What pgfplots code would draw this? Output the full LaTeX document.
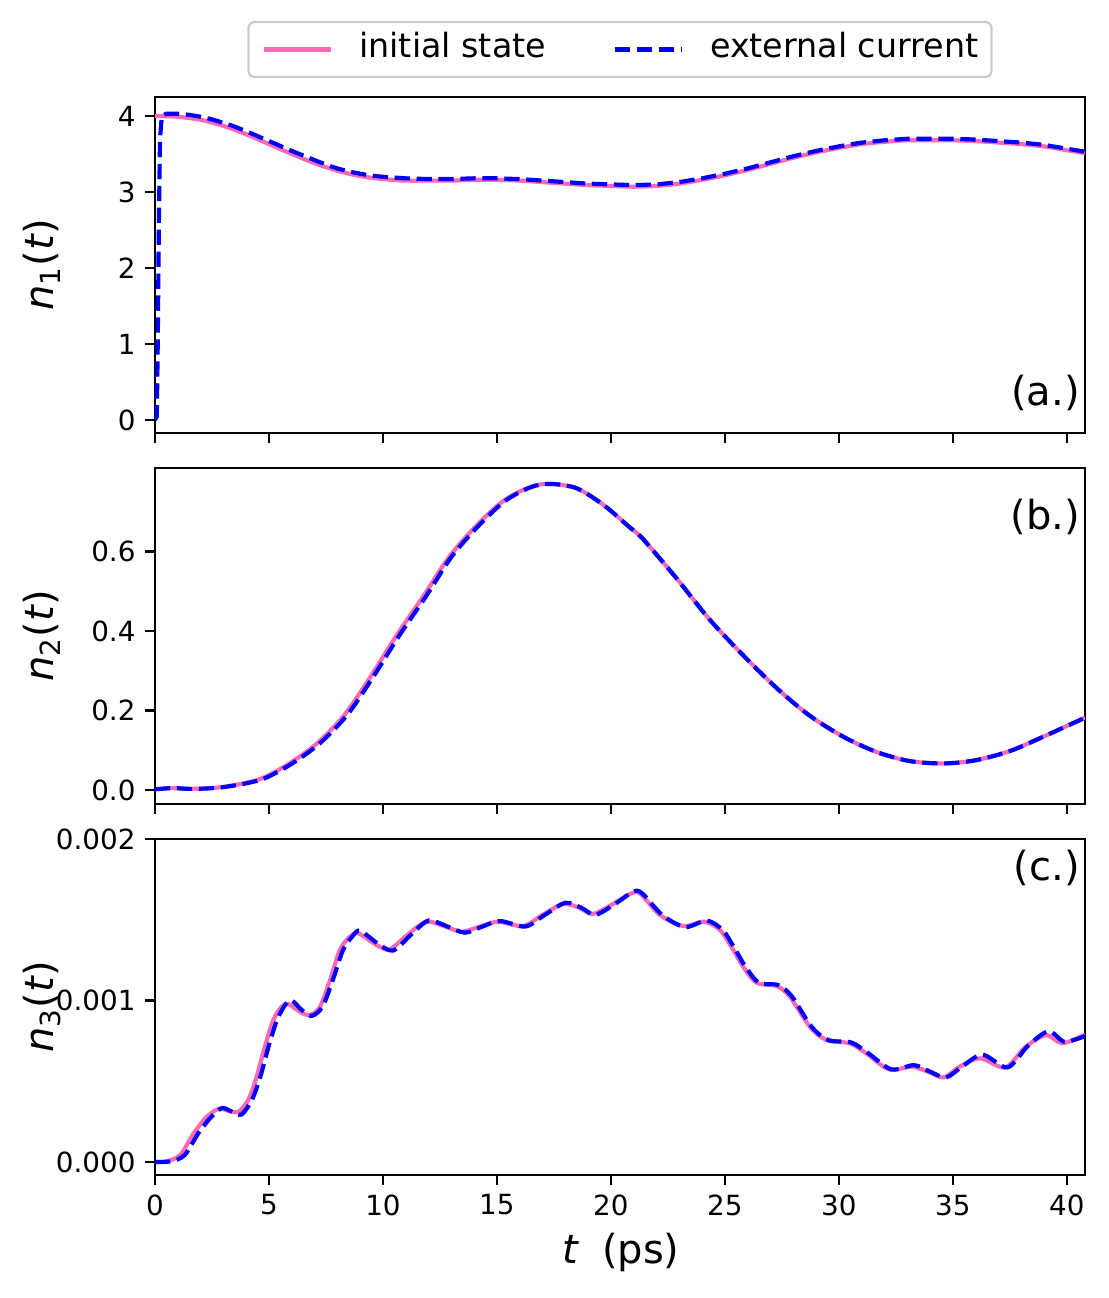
\documentclass[border=0pt]{standalone}
\usepackage{fontspec}
\setmainfont{DejaVu Sans}
\usepackage{pgfplots}
\pgfplotsset{compat=1.18}
\definecolor{hpink}{HTML}{FF69B4}
\definecolor{pblue}{HTML}{0000FF}
\tikzset{lab/.style={font=\fontsize{14.4}{17}\selectfont, anchor=east, inner sep=0pt}}
\pgfplotsset{
  panel/.style={
    scale only axis, width=334.8pt, height=120.96pt,
    anchor=south west,
    xmin=0, xmax=40.8,
    xtick={0,5,...,40},
    tick align=outside, tick pos=left,
    major tick length=3.5pt,
    every tick/.style={black, line width=0.8pt},
    axis line style={line width=0.8pt},
    tick label style={font=\fontsize{10}{12}\selectfont},
    /pgf/number format/assume math mode=true,
    scaled y ticks=false,
    ylabel style={at={(axis description cs:-0.1215,0.5)}, anchor=center, font=\fontsize{14.4}{17}\selectfont},
    clip=true,
  },
  pinkline/.style={color=hpink, line width=1.5pt, smooth},
  blueline/.style={color=pblue, line width=1.5pt, dash pattern=on 5.5pt off 2.4pt},
}
\begin{document}
\begin{tikzpicture}
\path[use as bounding box] (0,0) rectangle (398.88pt,467.28pt);
% ---------------- panel a
\begin{axis}[panel, at={(55.8pt,311.4pt)},
  ymin=-0.17, ymax=4.25, ytick={0,1,2,3,4}, xticklabels={},
  ylabel={{\itshape n}\textsubscript{1}({\itshape t})},
  legend columns=2,
  legend style={at={(0.5,1)}, anchor=south, yshift=6.8pt,
    font=\fontsize{12}{14}\selectfont, draw=black!20, line width=0.8pt, rounded corners=2pt,
    inner xsep=4.8pt, inner ysep=4.4pt,
    nodes={inner sep=0pt, text depth=0.25em, text height=0.85em},
    /tikz/every odd column/.append style={column sep=9.6pt},
    /tikz/every even column/.append style={column sep=24pt}},
  legend image code/.code={\draw[#1] (0pt,0pt) -- (24pt,0pt);},
]
\addplot[pinkline] coordinates {
(0,4.00) (1,3.99) (2,3.95) (3,3.87) (4,3.76) (5,3.63) (6,3.50) (7,3.38) (8,3.28) (9,3.21) (10,3.17) (11,3.15) (12,3.15) (13,3.15) (14,3.16) (15,3.16) (16,3.15) (17,3.13) (18,3.11) (19,3.09) (20,3.08) (21,3.07) (22,3.08) (23,3.11) (24,3.16) (25,3.22) (26,3.29) (27,3.37) (28,3.45) (29,3.52) (30,3.58) (31,3.63) (32,3.66) (33,3.68) (34,3.68) (35,3.68) (36,3.67) (37,3.65) (38,3.63) (39,3.60) (40,3.55) (40.8,3.51)
};
\addlegendentry{initial state}
\addplot[blueline] coordinates {
(0,0) (0.08,0.05) (0.12,1.0) (0.17,2.6) (0.22,3.7) (0.3,4.0) (0.5,4.03) (1,4.03) (1.5,4.015) (2,3.99) (2.5,3.955) (3,3.91) (3.5,3.86) (4,3.80) (4.5,3.735) (5,3.67) (5.5,3.605) (6,3.54) (6.5,3.48) (7,3.42) (7.5,3.36) (8,3.31) (8.5,3.27) (9,3.24) (9.5,3.215) (10,3.20) (11,3.18) (12,3.17) (13,3.17) (14,3.18) (15,3.18) (16,3.17) (17,3.15) (18,3.13) (19,3.11) (20,3.10) (21,3.09) (22,3.10) (23,3.13) (24,3.18) (25,3.24) (26,3.31) (27,3.39) (28,3.47) (29,3.54) (30,3.60) (31,3.65) (32,3.68) (33,3.70) (34,3.70) (35,3.70) (36,3.69) (37,3.67) (38,3.65) (39,3.62) (40,3.57) (40.8,3.53)
};
\addlegendentry{external current}
\node[lab] at (axis description cs:0.995,0.12) {(a.)};
\end{axis}
% ---------------- panel b
\begin{axis}[panel, at={(55.8pt,177.84pt)},
  ymin=-0.035, ymax=0.81, ytick={0,0.2,0.4,0.6}, xticklabels={},
  yticklabel style={/pgf/number format/.cd, fixed, precision=1, zerofill},
  ylabel={{\itshape n}\textsubscript{2}({\itshape t})},
]
\addplot[pinkline] coordinates {
(0,0.002) (0.7,0.005) (1.5,0.003) (2.7,0.006) (3.9,0.017) (4.75,0.031) (5.9,0.067) (7.1,0.117) (8.3,0.188) (9.4,0.28) (10.6,0.389) (11.8,0.49) (12.9,0.586) (14.1,0.665) (15.3,0.728) (16.45,0.762) (17.3,0.770) (18.5,0.759) (19.7,0.716) (20.8,0.662) (21.4,0.632) (22.9,0.531) (24.3,0.431) (25.8,0.339) (27.3,0.255) (28.7,0.188) (30.2,0.134) (31.65,0.096) (33.1,0.073) (34.6,0.067) (36.0,0.075) (37.5,0.098) (38.96,0.134) (40.8,0.182)
};
\addplot[blueline, smooth] coordinates {
(0,0.002) (0.8,0.005) (1.6,0.003) (2.8,0.006) (4.0,0.017) (4.87,0.031) (6.02,0.067) (7.22,0.117) (8.42,0.188) (9.52,0.28) (10.72,0.389) (11.92,0.49) (13.0,0.586) (14.2,0.665) (15.38,0.728) (16.5,0.762) (17.35,0.770) (18.5,0.759) (19.7,0.716) (20.8,0.662) (21.4,0.632) (22.9,0.531) (24.3,0.431) (25.8,0.339) (27.3,0.255) (28.7,0.188) (30.2,0.134) (31.65,0.096) (33.1,0.073) (34.6,0.067) (36.0,0.075) (37.5,0.098) (38.96,0.134) (40.8,0.182)
};
\node[lab] at (axis description cs:0.995,0.854) {(b.)};
\end{axis}
% ---------------- panel c
\begin{axis}[panel, at={(55.8pt,44.28pt)},
  ymin=-0.00008, ymax=0.002, ytick={0,0.001,0.002},
  yticklabel style={/pgf/number format/.cd, fixed, precision=3, zerofill},
  ylabel={{\itshape n}\textsubscript{3}({\itshape t})},
  xlabel={{\itshape t}\hspace{0.6em}(ps)},
  xlabel style={at={(axis description cs:0.501,-0.232)}, anchor=center, font=\fontsize{14.4}{17}\selectfont},
]
\addplot[pinkline] table[y expr=\thisrowno{1}*0.001] {
0 0
0.5 0.005
1.1 0.043
1.7 0.178
2.27 0.28
2.8 0.330
3.2 0.318
3.65 0.311
4.09 0.384
4.46 0.528
4.82 0.714
5.19 0.879
5.56 0.962
5.85 0.978
6.36 0.93
6.8 0.91
7.24 0.962
7.68 1.127
8.11 1.313
8.55 1.395
8.92 1.416
9.72 1.344
10.3 1.317
11.1 1.41
11.9 1.488
12.7 1.46
13.45 1.426
14.3 1.46
15.06 1.488
16.15 1.461
17.0 1.53
17.9 1.597
18.6 1.575
19.2 1.536
20.0 1.59
20.9 1.664
21.3 1.66
22.15 1.53
23.17 1.461
24.1 1.488
24.78 1.437
25.3 1.33
25.8 1.21
26.4 1.11
27.27 1.09
27.85 1.024
28.73 0.838
29.46 0.755
30.48 0.735
31.2 0.673
32.2 0.574
33.2 0.59
33.9 0.56
34.6 0.524
35.3 0.59
36.2 0.642
37.3 0.586
38.2 0.714
39.1 0.786
39.8 0.735
40.8 0.79
};
\addplot[blueline, smooth] table[y expr=\thisrowno{1}*0.001] {
0 0
0.7 0.005
1.3 0.043
1.9 0.178
2.47 0.28
2.95 0.335
3.4 0.31
3.8 0.295
4.25 0.384
4.62 0.528
4.98 0.714
5.35 0.879
5.72 0.975
6.0 1.0
6.45 0.94
6.88 0.905
7.35 0.962
7.8 1.127
8.25 1.313
8.68 1.40
9.0 1.432
9.8 1.35
10.45 1.31
11.25 1.41
12.0 1.495
12.8 1.46
13.6 1.42
14.4 1.46
15.15 1.492
16.25 1.458
17.1 1.53
18.0 1.605
18.7 1.575
19.3 1.53
20.1 1.59
21.0 1.675
21.4 1.66
22.25 1.53
23.25 1.455
24.2 1.495
24.9 1.437
25.4 1.33
25.9 1.21
26.5 1.11
27.35 1.095
27.95 1.024
28.8 0.838
29.55 0.755
30.55 0.74
31.3 0.673
32.3 0.574
33.3 0.60
34.0 0.56
34.7 0.524
35.4 0.59
36.3 0.665
37.4 0.586
38.3 0.72
39.2 0.81
39.9 0.745
40.8 0.78
};
\node[lab] at (axis description cs:0.995,0.914) {(c.)};
\end{axis}
\end{tikzpicture}
\end{document}
